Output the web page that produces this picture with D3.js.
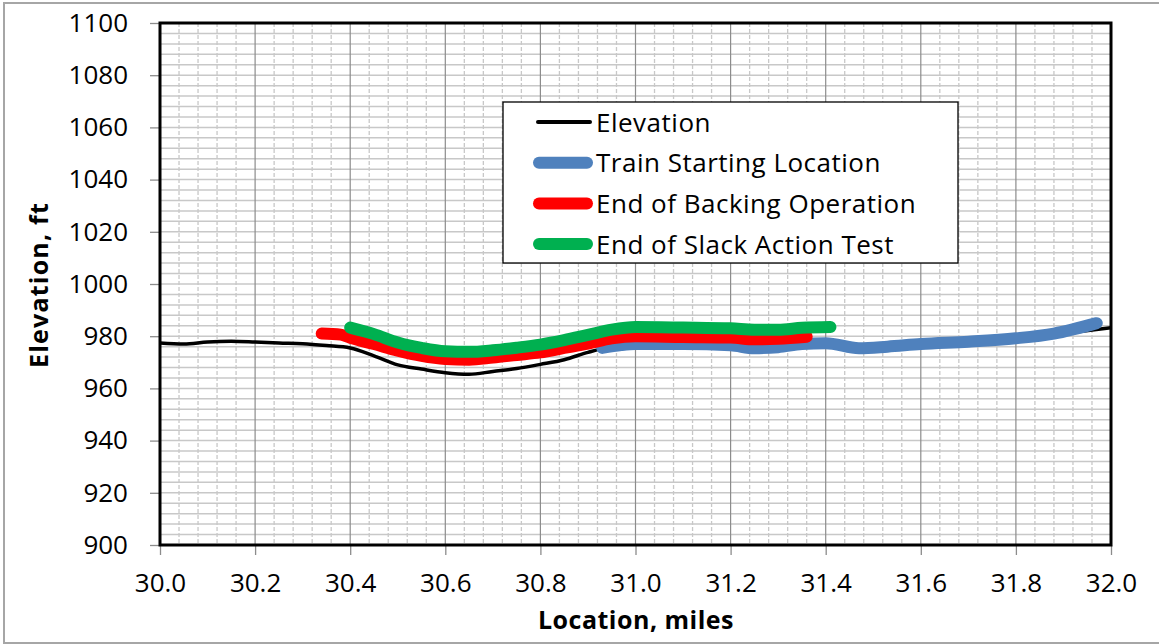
<!DOCTYPE html>
<html><head><meta charset="utf-8">
<script src="https://cdn.jsdelivr.net/npm/d3@7"></script>
<style>html,body{margin:0;padding:0;background:#fff;}svg{display:block;}</style>
</head><body>
<script>
// ---- data ----
const xTicks = [30.0, 30.2, 30.4, 30.6, 30.8, 31.0, 31.2, 31.4, 31.6, 31.8, 32.0];
const yTicks = [900, 920, 940, 960, 980, 1000, 1020, 1040, 1060, 1080, 1100];

const elevX = [30.0, 30.05, 30.1, 30.15, 30.2, 30.25, 30.3, 30.35, 30.4, 30.45, 30.5, 30.55, 30.6, 30.65, 30.7, 30.75, 30.8, 30.85, 30.9, 30.95, 31.0, 31.1, 31.2, 31.25, 31.3, 31.4, 31.5, 31.6, 31.7, 31.8, 31.9, 32.0];
const elevY = [977.4, 977.0, 977.8, 978.1, 977.8, 977.4, 977.1, 976.4, 975.5, 972.5, 969.0, 967.4, 966.0, 965.4, 966.5, 967.6, 969.2, 971.0, 973.8, 976.0, 976.7, 976.5, 976.0, 974.8, 975.0, 976.6, 975.5, 977.0, 977.9, 978.7, 981.0, 983.2];

const startX = [30.93, 30.97, 31.0, 31.1, 31.2, 31.25, 31.3, 31.35, 31.4, 31.47, 31.53, 31.6, 31.7, 31.8, 31.88, 31.97];
const startY = [975.5, 976.6, 977.0, 977.0, 976.5, 975.4, 975.8, 977.0, 977.3, 975.4, 976.0, 977.0, 977.9, 979.2, 981.0, 985.0];

const backX = [30.34, 30.38, 30.4, 30.45, 30.5, 30.55, 30.6, 30.65, 30.7, 30.75, 30.8, 30.85, 30.9, 30.95, 31.0, 31.1, 31.2, 31.25, 31.3, 31.36];
const backY = [981.0, 980.6, 979.4, 977.0, 974.5, 972.5, 971.3, 971.0, 971.8, 972.8, 973.8, 975.5, 977.2, 979.2, 980.0, 979.7, 979.5, 978.8, 979.0, 979.8];

const slackX = [30.4, 30.45, 30.5, 30.55, 30.6, 30.65, 30.7, 30.75, 30.8, 30.85, 30.9, 30.95, 31.0, 31.1, 31.2, 31.25, 31.3, 31.35, 31.41];
const slackY = [983.3, 980.8, 977.6, 975.5, 974.2, 974.0, 974.6, 975.6, 976.8, 978.5, 980.5, 982.5, 983.5, 983.3, 983.0, 982.5, 982.5, 983.2, 983.5];

const seriesNames = ["Elevation", "Train Starting Location", "End of Backing Operation", "End of Slack Action Test"];
const seriesColors = ["#000000", "#4F81BD", "#FF0000", "#00B050"];
const seriesWidths = [3.5, 12, 12, 12];

// ---- layout ----
const W = 1159, H = 644;
const L = 160, R = 1111, T = 23, B = 545;
const font = "'Open Sans', Lato, sans-serif";

const svg = d3.select("body").append("svg").attr("width", W).attr("height", H);
svg.append("rect").attr("x", 4).attr("y", 3).attr("width", W + 10).attr("height", 640)
  .attr("fill", "#fff").attr("stroke", "#a6a6a6").attr("stroke-width", 2);

const x = d3.scaleLinear().domain([30, 32]).range([L, R]);
const y = d3.scaleLinear().domain([900, 1100]).range([B, T]);

const grid = svg.append("g");
d3.range(904, 1100, 4).forEach(v => {
  grid.append("line").attr("x1", L).attr("x2", R).attr("y1", y(v)).attr("y2", y(v))
    .attr("stroke", "#c8c8c8").attr("stroke-width", 1.5);
});
d3.range(0, 50).forEach(i => {
  if (i % 5 === 0) return;
  const v = 30 + i * 0.04;
  grid.append("line").attr("x1", x(v)).attr("x2", x(v)).attr("y1", T).attr("y2", B)
    .attr("stroke", "#c8c8c8").attr("stroke-width", 1.3).attr("stroke-dasharray", "4,2");
});
xTicks.slice(1, -1).forEach(v => {
  grid.append("line").attr("x1", x(v)).attr("x2", x(v)).attr("y1", T).attr("y2", B)
    .attr("stroke", "#8c8c8c").attr("stroke-width", 1.2);
});

const yAxis = svg.append("g").attr("transform", `translate(${L},0)`)
  .call(d3.axisLeft(y).tickValues(yTicks).tickFormat(d3.format("d")).tickSize(10).tickPadding(22));
const xAxis = svg.append("g").attr("transform", `translate(0,${B})`)
  .call(d3.axisBottom(x).tickValues(xTicks).tickFormat(d3.format(".1f")).tickSize(10).tickPadding(19));
[yAxis, xAxis].forEach(a => {
  a.select(".domain").remove();
  a.selectAll(".tick line").attr("stroke", "#8c8c8c").attr("stroke-width", 1.3);
  a.selectAll("text").attr("font-family", font).attr("font-size", 26).attr("fill", "#000");
});

const line = d3.line().curve(d3.curveMonotoneX).x(d => x(d[0])).y(d => y(d[1]));
const data = [
  d3.zip(elevX, elevY), d3.zip(startX, startY), d3.zip(backX, backY), d3.zip(slackX, slackY)
];
svg.append("clipPath").attr("id", "clip").append("rect")
  .attr("x", L).attr("y", T).attr("width", R - L).attr("height", B - T);
data.forEach((d, i) => {
  svg.append("path").datum(d).attr("d", line).attr("fill", "none")
    .attr("stroke", seriesColors[i]).attr("stroke-width", seriesWidths[i])
    .attr("stroke-linecap", i === 0 ? "butt" : "round").attr("stroke-linejoin", "round")
    .attr("clip-path", i === 0 ? "url(#clip)" : null);
});

svg.append("rect").attr("x", L).attr("y", T).attr("width", R - L).attr("height", B - T)
  .attr("fill", "none").attr("stroke", "#000").attr("stroke-width", 3);

svg.append("text").attr("x", 636).attr("y", 629).attr("text-anchor", "middle")
  .attr("font-family", font).attr("font-weight", "bold").attr("font-size", 25)
  .attr("letter-spacing", 0.5).text("Location, miles");
svg.append("text").attr("transform", "translate(48,285) rotate(-90)").attr("text-anchor", "middle")
  .attr("font-family", font).attr("font-weight", "bold").attr("font-size", 25)
  .attr("letter-spacing", 1.2).text("Elevation, ft");

const lg = svg.append("g");
lg.append("rect").attr("x", 503).attr("y", 102).attr("width", 455).attr("height", 161)
  .attr("fill", "#fff").attr("stroke", "#000").attr("stroke-width", 1.3);
seriesNames.forEach((n, i) => {
  const cy = 122 + i * 40.7;
  lg.append("line").attr("x1", i === 0 ? 538 : 539).attr("x2", i === 0 ? 590 : 587)
    .attr("y1", cy).attr("y2", cy).attr("stroke", seriesColors[i]).attr("stroke-width", i === 0 ? 4 : seriesWidths[i])
    .attr("stroke-linecap", "round");
  lg.append("text").attr("x", 596).attr("y", cy + 9.5).attr("font-family", font)
    .attr("font-size", 26).attr("letter-spacing", 0.5).attr("fill", "#000").text(n);
});
</script>
</body></html>
